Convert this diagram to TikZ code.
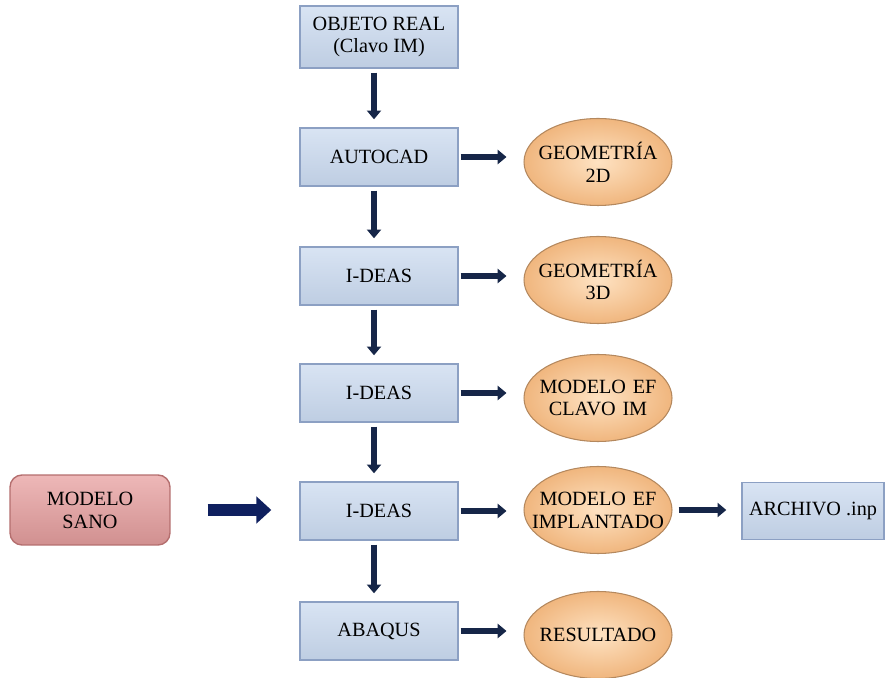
\documentclass[tikz,border=0pt]{standalone}
\usepackage{fontspec}
\setmainfont{Liberation Serif}
\newfontfamily\diagfont{Liberation Serif}
\usetikzlibrary{arrows.meta,shapes.geometric}
\definecolor{boxblue}{RGB}{200,216,238}
\definecolor{boxedge}{RGB}{140,160,195}
\definecolor{ovalin}{RGB}{254,226,194}
\definecolor{ovalout}{RGB}{240,182,126}
\definecolor{sanopink}{RGB}{232,160,160}
\definecolor{sanoedge}{RGB}{180,110,110}
\definecolor{arrownavy}{RGB}{22,38,72}
\definecolor{sanonavy}{RGB}{15,32,95}
\tikzset{
  progbox/.style={rectangle, draw=boxedge, line width=0.8pt, top color=boxblue!70, bottom color=boxblue!95!black,
    minimum width=3.16cm, minimum height=1.16cm, align=center, font=\diagfont\fontsize{11.5}{13}\selectfont},
  resoval/.style={ellipse, draw=ovalout!75!black, line width=0.6pt, inner color=ovalin, outer color=ovalout,
    text width=2.8cm, inner xsep=-0.7cm, inner ysep=0pt, minimum width=2.96cm, minimum height=1.74cm,
    align=center, font=\diagfont\fontsize{11.5}{13}\selectfont},
  sanobox/.style={rectangle, rounded corners=0.24cm, draw=sanoedge, line width=0.8pt, top color=sanopink!75, bottom color=sanopink!90!black,
    minimum width=3.2cm, minimum height=1.4cm, align=center, font=\diagfont\fontsize{11.5}{13}\selectfont},
  downarr/.style={-{Triangle[length=5pt,width=8pt]}, line width=3.4pt, arrownavy, shorten <=0.08cm, shorten >=0.16cm},
  sidearr/.style={-{Triangle[length=5pt,width=8pt]}, line width=3.8pt, arrownavy},
}
\begin{document}
\begin{tikzpicture}[x=0.02cm, y=-0.02cm]
  \useasboundingbox (0,0) rectangle (886,678);
  % main chain
  \node[progbox, minimum height=1.24cm] (obj) at (379,37) {OBJETO REAL\\(Clavo IM)};
  \node[progbox] (acad) at (379,157) {AUTOCAD};
  \node[progbox] (ideasA) at (379,276) {I-DEAS};
  \node[progbox] (ideasB) at (379,393) {I-DEAS};
  \node[progbox] (ideasC) at (379,511) {I-DEAS};
  \node[progbox] (abq) at (379,631) {ABAQUS};
  % results
  \node[resoval] (geo2) at (598,162) {GEOMETRÍA\\2D};
  \node[resoval] (geo3) at (598,280) {GEOMETRÍA\\3D};
  \node[resoval] (efclavo) at (598,398) {MODELO EF\\CLAVO IM};
  \node[resoval] (efimpl) at (598,510) {MODELO EF\\IMPLANTADO};
  \node[resoval] (res) at (598,635) {RESULTADO};
  % side boxes
  \node[progbox, minimum width=2.84cm, minimum height=1.14cm] (inp) at (813,511) {ARCHIVO .inp};
  \node[sanobox] (sano) at (90,510) {MODELO\\SANO};
  % downward arrows
  \foreach \a/\b in {obj/acad, acad/ideasA, ideasA/ideasB, ideasB/ideasC, ideasC/abq}
    \draw[downarr] ([xshift=-0.1cm]\a.south) -- ([xshift=-0.1cm]\b.north);
  % arrows to the right
  \foreach \a/\b in {acad/geo2, ideasA/geo3, ideasB/efclavo, ideasC/efimpl, abq/res}
    \draw[sidearr, shorten <=0.04cm, shorten >=0.34cm] (\a.east) -- (\a.east -| \b.west);
  \draw[sidearr, shorten <=0.12cm, shorten >=0.3cm] (efimpl.east) -- (efimpl.east -| inp.west);
  \draw[-{Triangle[length=8.5pt,width=15pt]}, line width=7pt, sanonavy, shorten <=0.74cm, shorten >=0.56cm]
    (sano.east) -- (sano.east -| ideasC.west);
\end{tikzpicture}
\end{document}
